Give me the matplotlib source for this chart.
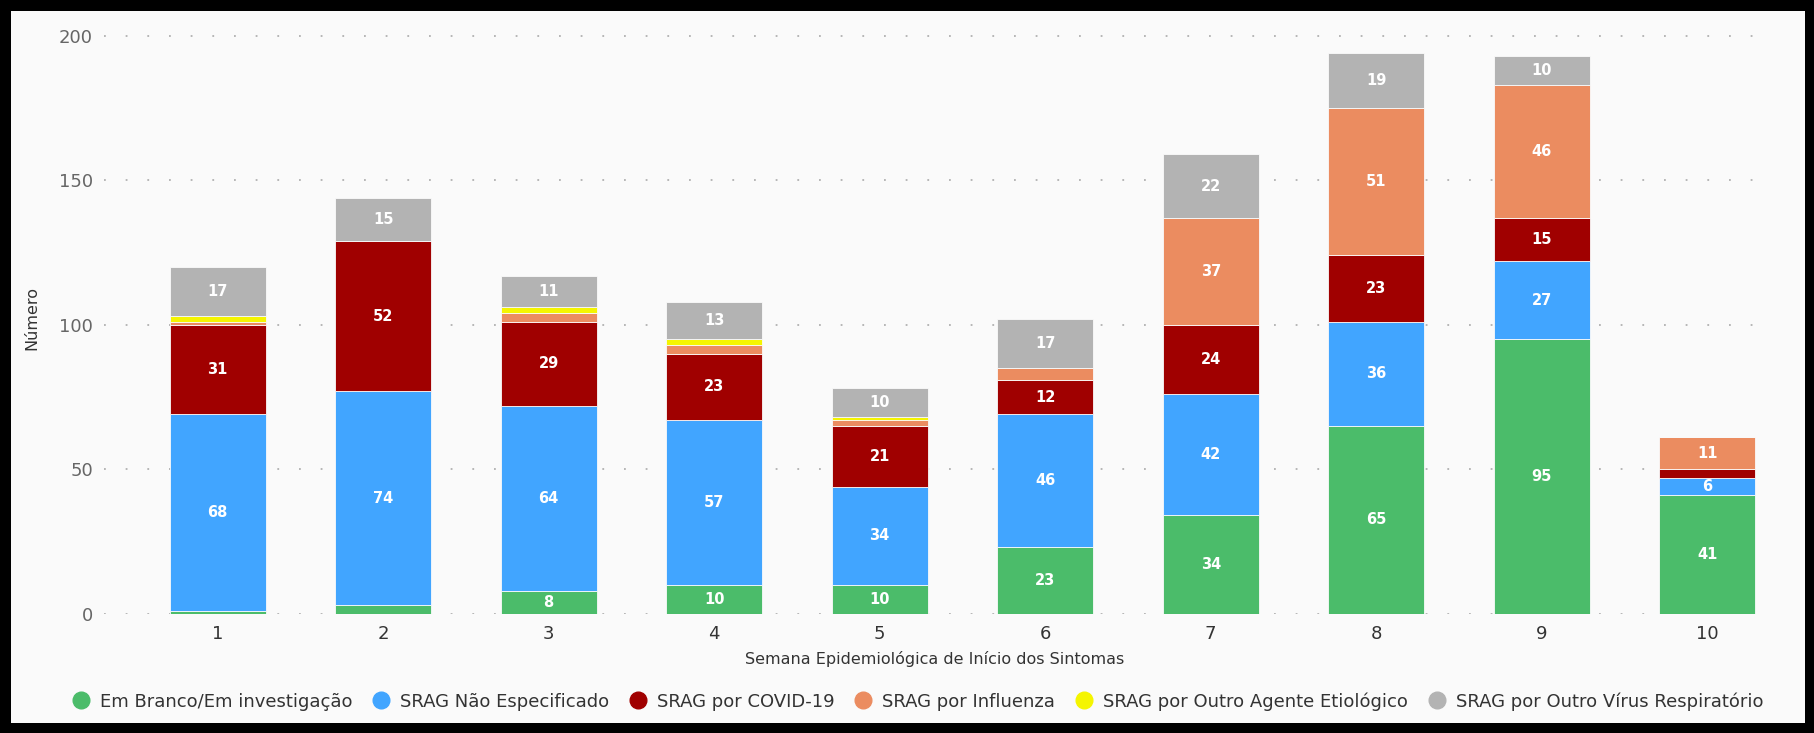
import numpy as np
import matplotlib
matplotlib.use("Agg")
import matplotlib.pyplot as plt
from matplotlib.lines import Line2D

# --- Data ---
semanas = [1, 2, 3, 4, 5, 6, 7, 8, 9, 10]
series_names = [
    "Em Branco/Em investigação",
    "SRAG Não Especificado",
    "SRAG por COVID-19",
    "SRAG por Influenza",
    "SRAG por Outro Agente Etiológico",
    "SRAG por Outro Vírus Respiratório",
]
em_branco = [1, 3, 8, 10, 10, 23, 34, 65, 95, 41]
nao_especificado = [68, 74, 64, 57, 34, 46, 42, 36, 27, 6]
covid = [31, 52, 29, 23, 21, 12, 24, 23, 15, 3]
influenza = [1, 0, 3, 3, 2, 4, 37, 51, 46, 11]
outro_agente = [2, 0, 2, 2, 1, 0, 0, 0, 0, 0]
outro_virus = [17, 15, 11, 13, 10, 17, 22, 19, 10, 0]

series_values = [em_branco, nao_especificado, covid, influenza, outro_agente, outro_virus]
series_colors = ["#4bbc6a", "#41a5ff", "#a00000", "#eb8c60", "#f5f500", "#b3b3b3"]
y_ticks = [0, 50, 100, 150, 200]

# --- Figure ---
fig = plt.figure(figsize=(18.15, 7.33), dpi=100)
fig.patch.set_facecolor("#fafafa")
fig.patch.set_edgecolor("black")
fig.patch.set_linewidth(14)

ax = fig.add_axes([0.0574, 0.1627, 0.9152, 0.8081])
ax.set_facecolor("#fafafa")

x = np.array(semanas)
bottom = np.zeros(len(x))
for name, vals, color in zip(series_names, series_values, series_colors):
    vals = np.array(vals, dtype=float)
    ax.bar(x, vals, width=0.58, bottom=bottom, color=color,
           edgecolor="#fafafa", linewidth=0.6, label=name, zorder=3)
    for xi, b, v in zip(x, bottom, vals):
        if v >= 5:
            ax.text(xi, b + v / 2, f"{int(v)}", ha="center", va="center",
                    color="white", fontsize=10.5, fontweight="bold", zorder=4)
    bottom += vals

ax.set_xlim(1 - 0.685, 10 + 0.35)
ax.set_ylim(0, 205)
ax.set_xticks(semanas)
ax.set_xticklabels([str(s) for s in semanas], fontsize=13, color="#333333")
ax.set_yticks(y_ticks)
ax.set_yticklabels([str(t) for t in y_ticks], fontsize=13, color="#666666")
ax.tick_params(axis="both", length=0, pad=8)
ax.yaxis.grid(True, linestyle=(0, (1, 11)), color="#b0b0b0", linewidth=1.3, zorder=0)
for sp in ax.spines.values():
    sp.set_visible(False)

ax.set_xlabel("Semana Epidemiológica de Início dos Sintomas", fontsize=11.5,
              color="#333333", labelpad=6)
ax.set_ylabel("Número", fontsize=11.5, color="#333333", labelpad=14)

handles = [Line2D([0], [0], marker="o", linestyle="", markersize=12,
                  markerfacecolor=c, markeredgecolor=c) for c in series_colors]
fig.legend(handles, series_names, loc="center", bbox_to_anchor=(0.503, 0.043),
           ncol=6, frameon=False, fontsize=13, handletextpad=0.05,
           columnspacing=0.6, labelcolor="#333333")

fig.savefig("out.png", dpi=100, facecolor=fig.get_facecolor(), edgecolor="black")
